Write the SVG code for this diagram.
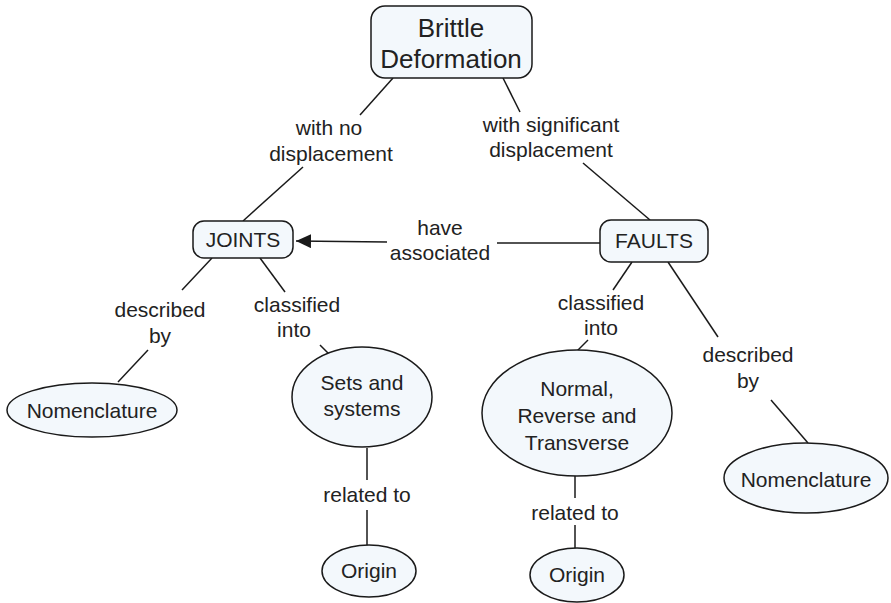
<svg xmlns="http://www.w3.org/2000/svg" width="891" height="603" viewBox="0 0 891 603">
<style>
.n{fill:#f3f8fc;stroke:#1a1a1a;stroke-width:1.5}
.t{font-family:"Liberation Sans",Arial,sans-serif;font-size:21px;fill:#222;text-anchor:middle}
.c{stroke:#1a1a1a;stroke-width:1.5;fill:none}
</style>
<defs>
<marker id="ah" markerWidth="16" markerHeight="14" refX="15" refY="7" orient="auto" markerUnits="userSpaceOnUse">
<path d="M0,0 L15,7 L0,14 Z" fill="#1a1a1a"/>
</marker>
</defs>
<g id="connectors">
<line class="c" x1="393" y1="78" x2="360" y2="115"/>
<line class="c" x1="303" y1="167" x2="243" y2="221"/>
<line class="c" x1="503" y1="78" x2="520" y2="112"/>
<line class="c" x1="583" y1="163" x2="650" y2="220"/>
<line class="c" x1="600" y1="243" x2="497" y2="243"/>
<line class="c" x1="387" y1="242" x2="296" y2="241" marker-end="url(#ah)"/>
<line class="c" x1="212" y1="258" x2="182" y2="290"/>
<line class="c" x1="148" y1="350" x2="118" y2="382"/>
<line class="c" x1="260" y1="258" x2="285" y2="292"/>
<line class="c" x1="320" y1="345" x2="333" y2="358"/>
<line class="c" x1="367" y1="448" x2="367" y2="480"/>
<line class="c" x1="367" y1="510" x2="367" y2="545"/>
<line class="c" x1="632" y1="262" x2="613" y2="290"/>
<line class="c" x1="588" y1="340" x2="577" y2="351"/>
<line class="c" x1="575" y1="476" x2="575" y2="498"/>
<line class="c" x1="575" y1="525" x2="575" y2="548"/>
<line class="c" x1="668" y1="262" x2="718" y2="337"/>
<line class="c" x1="771" y1="400" x2="808" y2="443"/>
<text class="t" x="329" y="135">with no</text>
<text class="t" x="331" y="161">displacement</text>
<text class="t" x="551" y="132">with significant</text>
<text class="t" x="551" y="157">displacement</text>
<text class="t" x="440" y="235">have</text>
<text class="t" x="440" y="260">associated</text>
<text class="t" x="160" y="317">described</text>
<text class="t" x="160" y="343">by</text>
<text class="t" x="297" y="312">classified</text>
<text class="t" x="294" y="337">into</text>
<text class="t" x="367" y="502">related to</text>
<text class="t" x="601" y="310">classified</text>
<text class="t" x="601" y="335">into</text>
<text class="t" x="575" y="520">related to</text>
<text class="t" x="748" y="362">described</text>
<text class="t" x="748" y="388">by</text>
</g>
<g id="brittle">
<rect class="n" x="371" y="6" width="161" height="72" rx="14"/>
<text class="t" x="451" y="37" style="font-size:26px">Brittle</text>
<text class="t" x="451" y="68" style="font-size:26px">Deformation</text>
</g>
<g id="joints">
<rect class="n" x="193" y="221" width="100" height="37" rx="11"/>
<text class="t" x="243" y="247">JOINTS</text>
</g>
<g id="faults">
<rect class="n" x="600" y="220" width="108" height="42" rx="11"/>
<text class="t" x="654" y="248">FAULTS</text>
</g>
<g id="nomenclature-left">
<ellipse class="n" cx="92" cy="410" rx="85" ry="27"/>
<text class="t" x="92" y="418">Nomenclature</text>
</g>
<g id="sets">
<ellipse class="n" cx="362" cy="397" rx="70" ry="50"/>
<text class="t" x="362" y="390">Sets and</text>
<text class="t" x="362" y="416">systems</text>
</g>
<g id="origin-left">
<ellipse class="n" cx="369" cy="571" rx="47" ry="26"/>
<text class="t" x="369" y="578">Origin</text>
</g>
<g id="normal">
<ellipse class="n" cx="577" cy="413" rx="95" ry="63"/>
<text class="t" x="577" y="396">Normal,</text>
<text class="t" x="577" y="423">Reverse and</text>
<text class="t" x="577" y="450">Transverse</text>
</g>
<g id="origin-right">
<ellipse class="n" cx="577" cy="575" rx="47" ry="27"/>
<text class="t" x="577" y="582">Origin</text>
</g>
<g id="nomenclature-right">
<ellipse class="n" cx="806" cy="478" rx="82" ry="35"/>
<text class="t" x="806" y="487">Nomenclature</text>
</g>
</svg>
